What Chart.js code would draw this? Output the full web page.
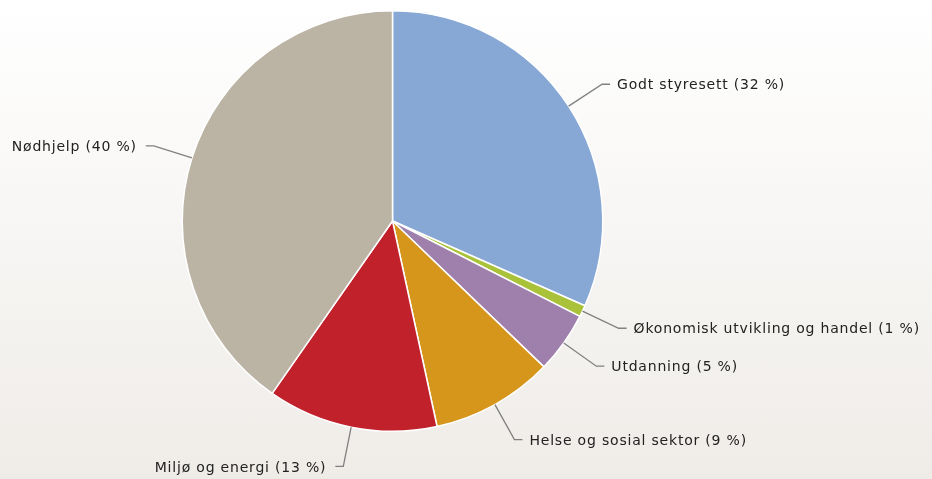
<!DOCTYPE html>
<html lang="no">
<head>
    <meta charset="UTF-8">
    <title>Fordeling</title>
    <script src="https://cdn.jsdelivr.net/npm/chart.js"></script>
    <style>
        html, body { margin: 0; padding: 0; }
        body { width: 932px; height: 479px; background: linear-gradient(#ffffff, #efece8); overflow: hidden; }
        canvas { display: block; }
    </style>
</head>
<body>
    <canvas id="Chart" width="932" height="479"></canvas>
    <script>
        const categories = ['Godt styresett', 'Økonomisk utvikling og handel', 'Utdanning', 'Helse og sosial sektor', 'Miljø og energi', 'Nødhjelp'];
        const shares = [31.6, 0.9, 4.7, 9.4, 13.1, 40.3];
        const sliceColors = ['#87a7d5', '#a9c23a', '#9f80ad', '#d6961c', '#c0212b', '#bbb3a3'];

        // labels outside the pie with an elbow connector
        const outsideLabels = {
            id: 'outsideLabels',
            afterDatasetsDraw(chart) {
                const ctx = chart.ctx;
                const arcs = chart.getDatasetMeta(0).data;
                ctx.save();
                ctx.font = '14px "DejaVu Sans"';
                ctx.letterSpacing = '0.8px';
                ctx.textBaseline = 'middle';
                arcs.forEach((arc, i) => {
                    const a = (arc.startAngle + arc.endAngle) / 2;
                    const r = arc.outerRadius;
                    const x0 = arc.x + Math.cos(a) * r;
                    const y0 = arc.y + Math.sin(a) * r;
                    const x1 = arc.x + Math.cos(a) * (r + 40);
                    const y1 = arc.y + Math.sin(a) * (r + 40);
                    const right = Math.cos(a) >= 0;
                    const x2 = x1 + (right ? 8 : -8);
                    ctx.strokeStyle = '#808080';
                    ctx.lineWidth = 1.3;
                    ctx.beginPath();
                    ctx.moveTo(x0, y0);
                    ctx.lineTo(x1, y1);
                    ctx.lineTo(x2, y1);
                    ctx.stroke();
                    ctx.fillStyle = '#222222';
                    ctx.textAlign = right ? 'left' : 'right';
                    const txt = categories[i] + ' (' + Math.round(shares[i]) + ' %)';
                    ctx.fillText(txt, x2 + (right ? 7 : -9), y1 + 1.5);
                });
                ctx.restore();
            }
        };

        new Chart(document.getElementById('Chart'), {
            type: 'pie',
            data: {
                labels: categories,
                datasets: [{
                    data: shares,
                    backgroundColor: sliceColors,
                    borderColor: '#ffffff',
                    borderWidth: 1.5
                }]
            },
            options: {
                responsive: false,
                animation: false,
                layout: { padding: { top: 10, bottom: 47, left: 0, right: 147 } },
                plugins: {
                    legend: { display: false },
                    tooltip: { enabled: false }
                }
            },
            plugins: [outsideLabels]
        });
    </script>
</body>
</html>
